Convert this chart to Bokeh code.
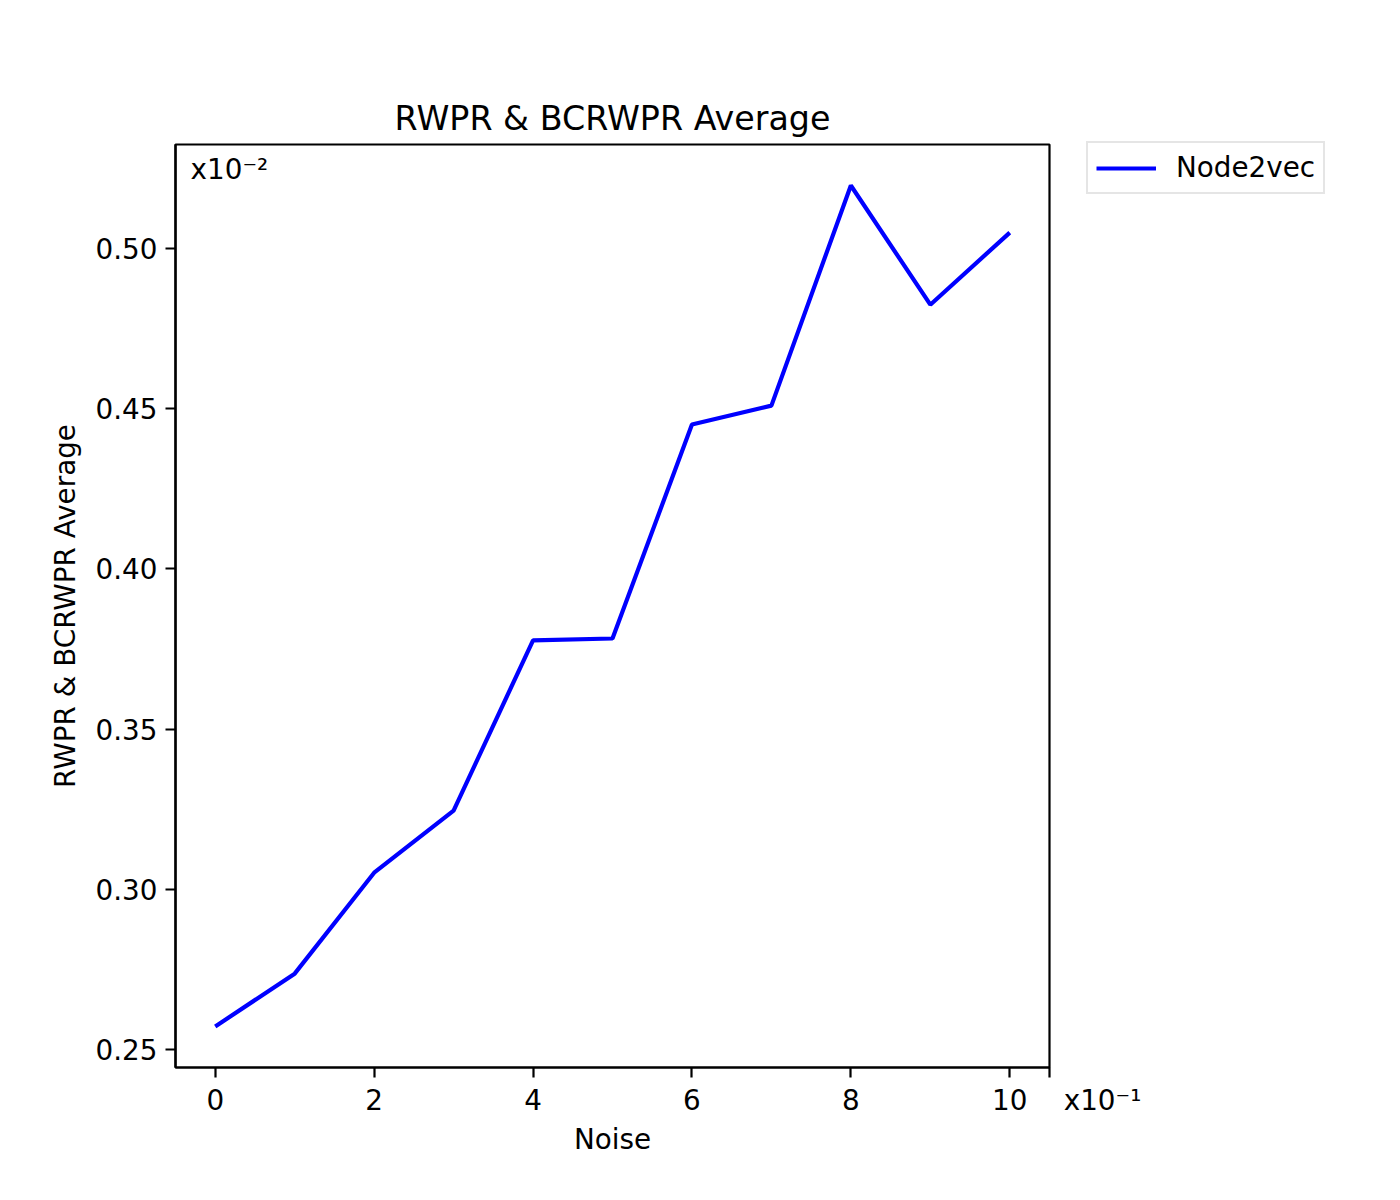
from bokeh.plotting import figure
from bokeh.models import Range1d, FixedTicker, Legend, LegendItem, Label, CustomJSTickFormatter
from bokeh.embed import file_html
from bokeh.resources import INLINE

noise = [0, 1, 2, 3, 4, 5, 6, 7, 8, 9, 10]
avg = [0.2572, 0.2737, 0.3052, 0.3246, 0.3777, 0.3783, 0.4451, 0.4510, 0.5197, 0.4825, 0.5050]
x_ticks = [0, 2, 4, 6, 8, 10]
y_ticks = [0.25, 0.30, 0.35, 0.40, 0.45, 0.50]
series_name = "Node2vec"
title_text = "RWPR & BCRWPR Average"
x_label = "Noise"
y_label = "RWPR & BCRWPR Average"
x_scale_note = "x10⁻¹"
y_scale_note = "x10⁻²"

FONT = "DejaVu Sans"
FS = "27.8px"
X_END = 10.5

p = figure(frame_width=874, frame_height=923,
           min_border_left=175, min_border_right=340,
           min_border_top=144, min_border_bottom=125,
           output_backend="svg", toolbar_location=None,
           x_range=Range1d(-0.5, X_END), y_range=Range1d(0.2444, 0.5325),
           title=title_text)
p.background_fill_color = "white"
p.border_fill_color = "white"
p.outline_line_color = "black"
p.outline_line_width = 2.2
p.xgrid.visible = False
p.ygrid.visible = False

p.title.align = "center"
p.title.text_font = FONT
p.title.text_font_size = "33.3px"
p.title.text_font_style = "normal"
p.title.text_color = "black"
p.title.standoff = 14

for ax in (p.xaxis[0], p.yaxis[0]):
    ax.axis_line_width = 2.2
    ax.axis_line_color = "black"
    ax.major_tick_line_width = 2.2
    ax.major_tick_line_color = "black"
    ax.major_tick_out = 10
    ax.major_tick_in = 0
    ax.minor_tick_out = 0
    ax.minor_tick_in = 0
    ax.major_label_text_font = FONT
    ax.major_label_text_font_size = FS
    ax.major_label_text_color = "black"
    ax.axis_label_text_font = FONT
    ax.axis_label_text_font_size = FS
    ax.axis_label_text_font_style = "normal"
    ax.axis_label_text_color = "black"

# the x scale note rides on an extra tick at the frame's right edge,
# pushed right of it by leading non-breaking spaces
p.xaxis[0].ticker = FixedTicker(ticks=x_ticks + [X_END])
p.xaxis[0].formatter = CustomJSTickFormatter(
    args=dict(note="\u00a0" * 12 + x_scale_note, end=X_END),
    code="if (Math.abs(tick - end) < 1e-9) { return note; } return tick.toFixed(0);")
p.yaxis[0].ticker = FixedTicker(ticks=y_ticks)
p.yaxis[0].formatter = CustomJSTickFormatter(code="return tick.toFixed(2);")
p.xaxis[0].axis_label = x_label
p.yaxis[0].axis_label = y_label
p.xaxis[0].major_label_standoff = 6
p.yaxis[0].major_label_standoff = 8
p.xaxis[0].axis_label_standoff = 3
p.yaxis[0].axis_label_standoff = 11

r = p.line(noise, avg, line_color="#0000ff", line_width=4.2)

legend = Legend(items=[LegendItem(label=series_name, renderers=[r])],
                location=(37, 873))
legend.label_text_font = FONT
legend.label_text_font_size = FS
legend.label_text_color = "black"
legend.border_line_color = "#cccccc"
legend.border_line_width = 2.2
legend.glyph_width = 60
legend.label_standoff = 20
legend.padding = 8
legend.spacing = 0
legend.margin = 0
legend.background_fill_alpha = 1
p.add_layout(legend, "right")

p.add_layout(Label(x=-0.31, y=0.5325, text=y_scale_note, text_font=FONT,
                   text_font_size=FS, text_color="black",
                   text_baseline="top", y_offset=-8))

open("out.html", "w").write(file_html(p, INLINE))
